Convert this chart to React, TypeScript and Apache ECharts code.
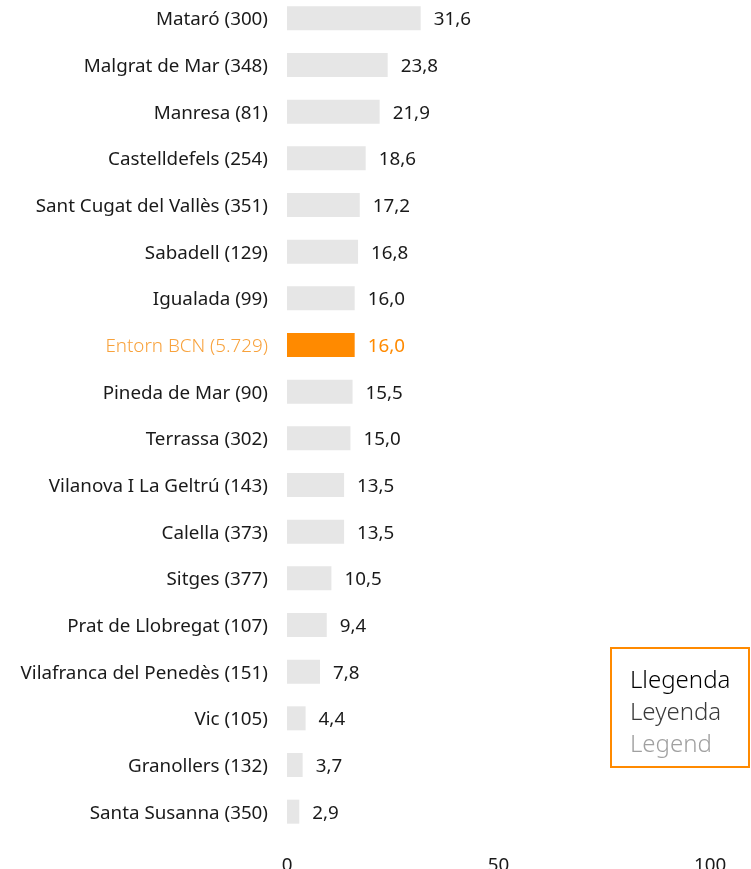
import React, { useEffect, useRef } from "react";
import * as echarts from "echarts";

const categories = [
  "Mataró (300)",
  "Malgrat de Mar (348)",
  "Manresa (81)",
  "Castelldefels (254)",
  "Sant Cugat del Vallès (351)",
  "Sabadell (129)",
  "Igualada (99)",
  "Entorn BCN (5.729)",
  "Pineda de Mar (90)",
  "Terrassa (302)",
  "Vilanova I La Geltrú (143)",
  "Calella (373)",
  "Sitges (377)",
  "Prat de Llobregat (107)",
  "Vilafranca del Penedès (151)",
  "Vic (105)",
  "Granollers (132)",
  "Santa Susanna (350)",
];
const values = [31.6, 23.8, 21.9, 18.6, 17.2, 16.8, 16.0, 16.0, 15.5, 15.0, 13.5, 13.5, 10.5, 9.4, 7.8, 4.4, 3.7, 2.9];
const highlight = "Entorn BCN (5.729)";
const legendLines = ["Llegenda", "Leyenda", "Legend"];

const FONT = "'Noto Sans', sans-serif";
const ORANGE = "#ff8a00";
const ORANGE_LIGHT = "#f8a23c";
const FS = 18.8;

export default function App() {
  const ref = useRef<HTMLDivElement>(null);
  useEffect(() => {
    if (!ref.current) return;
    const chart = echarts.init(ref.current, undefined, { renderer: "svg", width: 751, height: 875 });
    chart.setOption({
      animation: false,
      grid: {
        left: 287,
        right: 41,
        top: 1,
        bottom: 34,
        containLabel: false,
        outerBoundsMode: "none",
      },
      xAxis: {
        type: "value",
        min: 0,
        max: 100,
        interval: 50,
        axisLine: { show: false },
        axisTick: { show: false },
        splitLine: { show: false },
        axisLabel: { margin: 19, fontFamily: FONT, fontSize: FS, color: "#1a1a1a" },
      },
      yAxis: {
        type: "category",
        data: categories,
        inverse: true,
        axisLine: { show: false },
        axisTick: { show: false },
        axisLabel: {
          margin: 19,
          fontFamily: FONT,
          fontSize: FS,
          color: "#1a1a1a",
          formatter: (v: string) => (v === highlight ? "{h|" + v + "}" : v),
          rich: { h: { color: ORANGE_LIGHT, fontFamily: FONT, fontSize: FS, fontWeight: 300 } },
        },
      },
      series: [
        {
          type: "bar",
          barWidth: 24,
          data: values.map((v, i) => ({
            value: v,
            itemStyle: { color: categories[i] === highlight ? ORANGE : "#e6e6e6" },
            label: categories[i] === highlight ? { color: ORANGE } : undefined,
          })),
          label: {
            show: true,
            position: "right",
            distance: 13,
            fontFamily: FONT,
            fontSize: FS,
            color: "#1a1a1a",
            formatter: (p: any) => p.value.toFixed(1).replace(".", ","),
          },
        },
      ],
      graphic: [
        {
          type: "rect",
          shape: { x: 611, y: 654, width: 138, height: 119 },
          style: { fill: "#fff", stroke: ORANGE, lineWidth: 2 },
        },
        ...legendLines.map((t, i) => ({
          type: "text",
          x: 630,
          y: 684 + i * 32,
          style: {
            text: t,
            fill: ["#000000", "#3a3a3a", "#a0a0a0"][i],
            font: `300 24px ${FONT}`,
            verticalAlign: "middle",
          },
        })),
      ],
    });
    return () => chart.dispose();
  }, []);
  return <div ref={ref} style={{ position: "fixed", left: 0, top: -6, width: 751, height: 875 }} />;
}
